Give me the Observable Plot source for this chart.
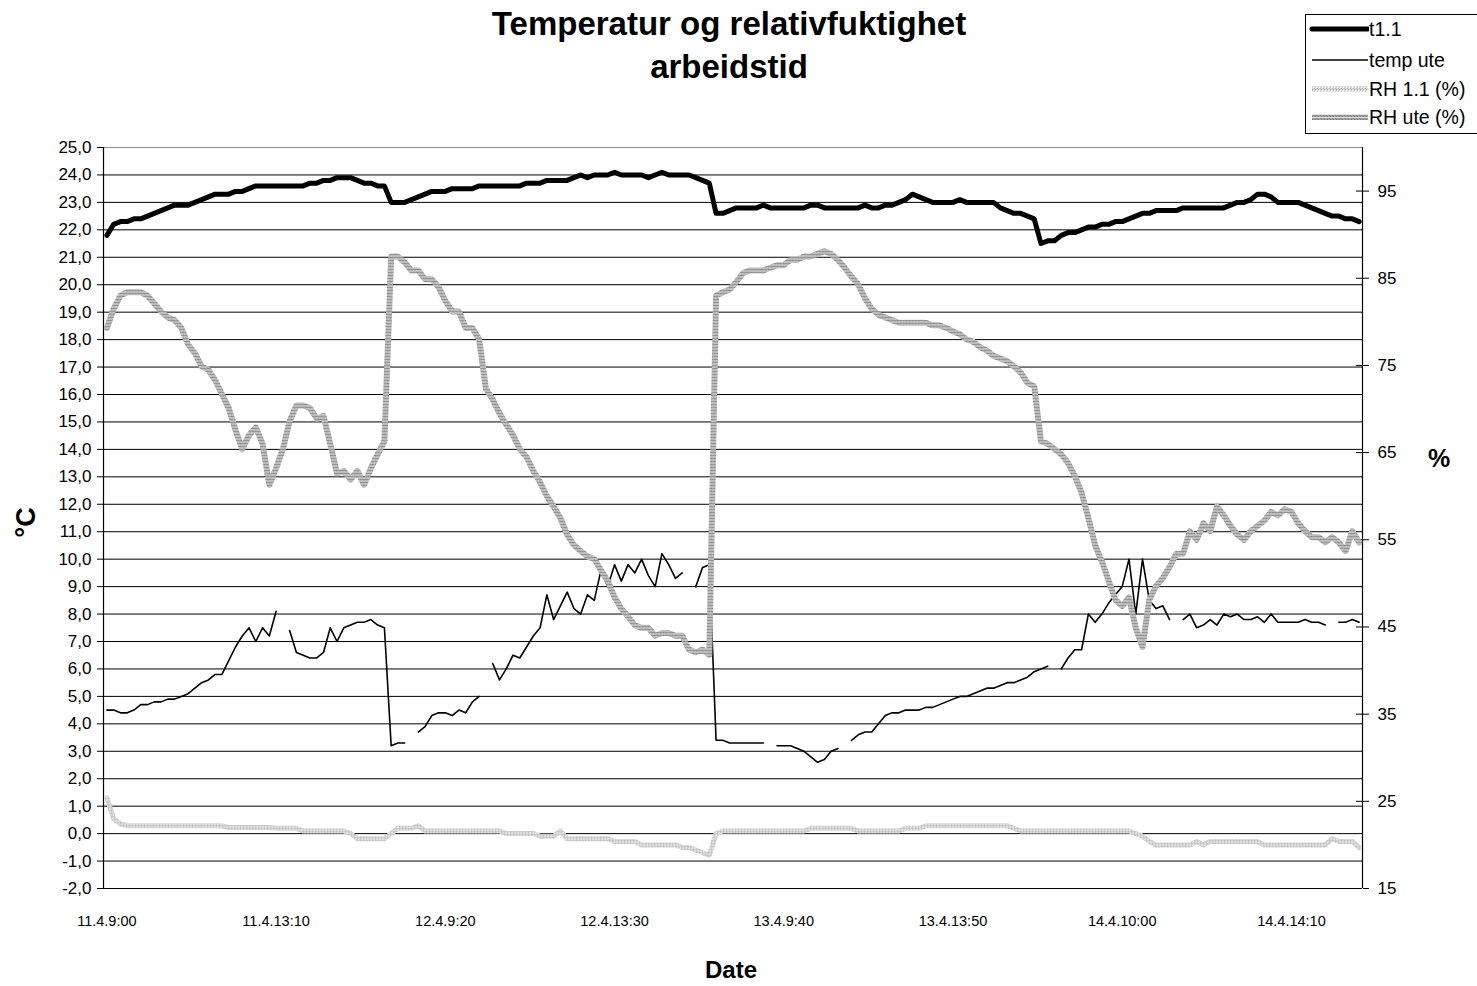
<!DOCTYPE html>
<html><head><meta charset="utf-8">
<script src="https://cdn.jsdelivr.net/npm/d3@7"></script>
<script src="https://cdn.jsdelivr.net/npm/@observablehq/plot@0.6"></script>
<style>
body{margin:0;background:#fff;font-family:"Liberation Sans",Arial,sans-serif;color:#000;}
#wrap{position:relative;width:1477px;height:986px;overflow:hidden;}
.abs{position:absolute;white-space:nowrap;}
.b{font-weight:bold;}
</style></head><body><div id="wrap"></div>
<script>
// ---- data ----
const tickIndex = [0, 25, 50, 75, 100, 125, 150, 175];
const tickLabels = ["11.4.9:00", "11.4.13:10", "12.4.9:20", "12.4.13:30", "13.4.9:40", "13.4.13:50", "14.4.10:00", "14.4.14:10"];
const seriesNames = ["t1.1", "temp ute", "RH 1.1 (%)", "RH ute (%)"];
const leftTicks = d3.range(-2, 26);
const rightTicks = [15, 25, 35, 45, 55, 65, 75, 85, 95];

const t11 = [
 21.8,22.2,22.3,22.3,22.4,22.4,22.5,22.6,22.7,22.8,
 22.9,22.9,22.9,23.0,23.1,23.2,23.3,23.3,23.3,23.4,
 23.4,23.5,23.6,23.6,23.6,23.6,23.6,23.6,23.6,23.6,
 23.7,23.7,23.8,23.8,23.9,23.9,23.9,23.8,23.7,23.7,
 23.6,23.6,23.0,23.0,23.0,23.1,23.2,23.3,23.4,23.4,
 23.4,23.5,23.5,23.5,23.5,23.6,23.6,23.6,23.6,23.6,
 23.6,23.6,23.7,23.7,23.7,23.8,23.8,23.8,23.8,23.9,
 24.0,23.9,24.0,24.0,24.0,24.1,24.0,24.0,24.0,24.0,
 23.9,24.0,24.1,24.0,24.0,24.0,24.0,23.9,23.8,23.7,
 22.6,22.6,22.7,22.8,22.8,22.8,22.8,22.9,22.8,22.8,
 22.8,22.8,22.8,22.8,22.9,22.9,22.8,22.8,22.8,22.8,
 22.8,22.8,22.9,22.8,22.8,22.9,22.9,23.0,23.1,23.3,
 23.2,23.1,23.0,23.0,23.0,23.0,23.1,23.0,23.0,23.0,
 23.0,23.0,22.8,22.7,22.6,22.6,22.5,22.4,21.5,21.6,
 21.6,21.8,21.9,21.9,22.0,22.1,22.1,22.2,22.2,22.3,
 22.3,22.4,22.5,22.6,22.6,22.7,22.7,22.7,22.7,22.8,
 22.8,22.8,22.8,22.8,22.8,22.8,22.9,23.0,23.0,23.1,
 23.3,23.3,23.2,23.0,23.0,23.0,23.0,22.9,22.8,22.7,
 22.6,22.5,22.5,22.4,22.4,22.3];

const tempUte = [
 4.5,4.5,4.4,4.4,4.5,4.7,4.7,4.8,4.8,4.9,
 4.9,5.0,5.1,5.3,5.5,5.6,5.8,5.8,6.3,6.8,
 7.2,7.5,7.0,7.5,7.2,8.1,null,7.4,6.6,6.5,
 6.4,6.4,6.6,7.5,7.0,7.5,7.6,7.7,7.7,7.8,
 7.6,7.5,3.2,3.3,3.3,null,3.7,3.9,4.3,4.4,
 4.4,4.3,4.5,4.4,4.8,5.0,null,6.2,5.6,6.0,
 6.5,6.4,6.8,7.2,7.5,8.7,7.8,8.3,8.8,8.2,
 8.0,8.7,8.5,9.6,9.0,9.8,9.2,9.8,9.5,10.0,
 9.4,9.0,10.2,9.8,9.3,9.5,null,9.0,9.7,9.8,
 3.4,3.4,3.3,3.3,3.3,3.3,3.3,3.3,null,3.2,
 3.2,3.2,3.1,3.0,2.8,2.6,2.7,3.0,3.1,null,
 3.4,3.6,3.7,3.7,4.0,4.3,4.4,4.4,4.5,4.5,
 4.5,4.6,4.6,4.7,4.8,4.9,5.0,5.0,5.1,5.2,
 5.3,5.3,5.4,5.5,5.5,5.6,5.7,5.9,6.0,6.1,
 null,6.0,6.4,6.7,6.7,8.0,7.7,8.0,8.4,8.7,
 9.0,10.0,8.0,10.0,8.5,8.2,8.3,7.8,null,7.8,
 8.0,7.5,7.6,7.8,7.6,8.0,7.9,8.0,7.8,7.8,
 7.9,7.7,8.0,7.7,7.7,7.7,7.7,7.8,7.7,7.7,
 7.6,null,7.7,7.7,7.8,7.7];

const rh11 = [
 25.4,23.0,22.4,22.2,22.2,22.2,22.2,22.2,22.2,22.2,
 22.2,22.2,22.2,22.2,22.2,22.2,22.2,22.2,22.0,22.0,
 22.0,22.0,22.0,22.0,22.0,21.9,21.9,21.9,21.9,21.6,
 21.6,21.6,21.6,21.6,21.6,21.6,21.3,20.7,20.7,20.7,
 20.7,20.7,21.3,21.9,21.9,21.9,22.2,21.6,21.6,21.6,
 21.6,21.6,21.6,21.6,21.6,21.6,21.6,21.6,21.6,21.3,
 21.3,21.3,21.3,21.3,21.0,21.0,21.0,21.6,20.7,20.7,
 20.7,20.7,20.7,20.7,20.7,20.4,20.4,20.4,20.4,20.0,
 20.0,20.0,20.0,20.0,20.0,19.7,19.7,19.4,19.1,18.8,
 21.3,21.6,21.6,21.6,21.6,21.6,21.6,21.6,21.6,21.6,
 21.6,21.6,21.6,21.6,21.9,21.9,21.9,21.9,21.9,21.9,
 21.9,21.6,21.6,21.6,21.6,21.6,21.6,21.6,21.9,21.9,
 21.9,22.2,22.2,22.2,22.2,22.2,22.2,22.2,22.2,22.2,
 22.2,22.2,22.2,22.2,21.9,21.6,21.6,21.6,21.6,21.6,
 21.6,21.6,21.6,21.6,21.6,21.6,21.6,21.6,21.6,21.6,
 21.6,21.6,21.3,21.0,20.4,20.0,20.0,20.0,20.0,20.0,
 20.0,20.4,20.0,20.4,20.4,20.4,20.4,20.4,20.4,20.4,
 20.4,20.0,20.0,20.0,20.0,20.0,20.0,20.0,20.0,20.0,
 20.0,20.7,20.4,20.4,20.4,19.7];

const rhUte = [
 79.3,81.5,83.0,83.4,83.4,83.4,83.0,82.1,81.2,80.5,
 80.2,79.3,77.4,76.4,74.9,74.5,73.3,71.7,70.1,67.6,
 65.4,67.0,67.9,66.0,61.3,63.2,65.4,68.6,70.4,70.4,
 70.1,68.9,69.2,66.0,62.6,62.9,61.9,62.9,61.3,63.2,
 64.8,66.3,87.5,87.5,86.8,85.9,85.9,84.9,84.9,84.0,
 82.4,81.2,81.2,79.3,79.3,78.0,72.3,71.1,69.5,68.2,
 67.0,65.4,64.5,62.9,61.6,60.0,58.8,57.5,55.6,54.4,
 53.7,53.1,52.8,51.5,50.3,48.4,47.1,46.2,45.2,44.9,
 44.9,44.0,44.3,44.3,44.0,44.0,42.4,42.1,42.4,41.8,
 83.0,83.4,83.7,84.6,85.6,85.9,85.9,85.9,86.2,86.5,
 86.5,87.1,87.1,87.5,87.5,87.8,88.1,87.8,87.1,86.2,
 85.2,84.3,82.7,81.5,80.8,80.5,80.2,79.9,79.9,79.9,
 79.9,79.9,79.6,79.6,79.3,78.9,78.6,78.0,77.7,77.1,
 76.7,76.1,75.8,75.5,74.9,74.2,73.0,72.6,66.3,66.0,
 65.4,64.8,63.8,62.3,60.4,57.5,54.4,52.5,50.3,48.1,
 47.4,48.4,44.9,42.7,48.1,49.7,50.6,51.9,53.4,53.4,
 56.0,55.0,56.9,56.0,58.8,57.8,56.6,55.6,55.0,56.0,
 56.6,57.2,58.2,57.8,58.5,58.2,56.9,56.0,55.3,55.3,
 54.7,55.3,54.7,53.7,56.0,54.7];

// ---- scales helpers (secondary % axis mapped onto the °C axis) ----
const C_MIN = -2, C_MAX = 25, P_MIN = 15, P_MAX = 100;
const pctToC = p => C_MIN + (p - P_MIN) * (C_MAX - C_MIN) / (P_MAX - P_MIN);
const cToPct = c => P_MIN + (c - C_MIN) * (P_MAX - P_MIN) / (C_MAX - C_MIN);
const N = t11.length;
const rows = (arr, conv) => arr.map((v, i) => ({i, v: v == null ? null : (conv ? conv(v) : v)}));

const plot = Plot.plot({
  width: 1477, height: 986,
  marginLeft: 103, marginRight: 115, marginTop: 147, marginBottom: 98,
  x: {type: "linear", domain: [-0.5, N - 0.5]},
  y: {domain: [C_MIN, C_MAX]},
  style: {fontFamily: "'Liberation Sans', Arial, sans-serif", background: "white", color: "black"},
  marks: [
    Plot.ruleY(leftTicks.filter(d => d > C_MIN && d < C_MAX), {stroke: "#000", strokeWidth: 1}),
    Plot.ruleY([C_MAX], {stroke: "#8c8c8c", strokeWidth: 1.2}),
    Plot.ruleY([C_MIN], {stroke: "#000", strokeWidth: 1.2}),
    Plot.ruleX([-0.5], {stroke: "#000", strokeWidth: 1.2}),
    Plot.ruleX([N - 0.5], {stroke: "#000", strokeWidth: 1.2}),
    Plot.axisX(tickIndex, {tickSize: 0, tickPadding: 27, fontSize: 14.5, label: null,
      tickFormat: d => tickLabels[tickIndex.indexOf(d)]}),
    Plot.axisY(leftTicks, {anchor: "left", tickSize: 6, tickPadding: 6, fontSize: 17, label: null,
      tickFormat: d => d.toFixed(1).replace(".", ",")}),
    Plot.axisY(rightTicks.map(pctToC), {anchor: "right", tickSize: 6, tickPadding: 9, fontSize: 17, label: null,
      tickFormat: d => String(Math.round(cToPct(d)))}),
    Plot.ruleY(rightTicks.map(pctToC), {x1: N - 1.4, x2: N - 0.5, stroke: "#000"}),
    Plot.line(rows(t11), {x: "i", y: "v", stroke: "#000", strokeWidth: 5, strokeLinejoin: "round", strokeLinecap: "round"}),
    Plot.line(rows(tempUte), {x: "i", y: "v", stroke: "#000", strokeWidth: 1.6, strokeLinejoin: "round"}),
    Plot.line(rows(rh11, pctToC), {x: "i", y: "v", stroke: "url(#patRH11)", strokeWidth: 5, strokeLinejoin: "round"}),
    Plot.line(rows(rhUte, pctToC), {x: "i", y: "v", stroke: "url(#patRHute)", strokeWidth: 6, strokeLinejoin: "round"})
  ]
});

// patterns that imitate the textured grey series
const defs = d3.select(plot).insert("defs", ":first-child");
function pattern(id, base, cells) {
  const p = defs.append("pattern").attr("id", id).attr("patternUnits", "userSpaceOnUse").attr("width", 3).attr("height", 3);
  p.append("rect").attr("width", 3).attr("height", 3).attr("fill", base);
  cells.forEach(([x, y, w, h, c]) => p.append("rect").attr("x", x).attr("y", y).attr("width", w).attr("height", h).attr("fill", c));
}
pattern("patRH11", "#d8d8d8", [[0, 0, 1, 1, "#a4a4a4"], [1, 1, 1, 1, "#ffffff"], [2, 2, 1, 1, "#b8b8b8"]]);
pattern("patRHute", "#a0a0a0", [[0, 0, 3, 1, "#e2e2e2"], [0, 2, 1, 1, "#7a7a7a"], [2, 1, 1, 1, "#858585"]]);

const wrap = document.getElementById("wrap");
plot.style.position = "absolute"; plot.style.left = "0"; plot.style.top = "0";
wrap.appendChild(plot);

function addText(txt, opts) {
  const d = document.createElement("div");
  d.className = "abs" + (opts.bold ? " b" : "");
  d.textContent = txt;
  d.style.fontSize = opts.fs + "px";
  d.style.lineHeight = opts.fs + "px";
  d.style.top = (opts.cy - 0.4885 * opts.fs) + "px";
  if (opts.center) { d.style.left = (opts.x - 300) + "px"; d.style.width = "600px"; d.style.textAlign = "center"; }
  else d.style.left = opts.x + "px";
  wrap.appendChild(d);
  return d;
}
addText("Temperatur og relativfuktighet", {fs: 33, cy: 23, x: 729, center: true, bold: true});
addText("arbeidstid", {fs: 33, cy: 66, x: 729, center: true, bold: true});
addText("Date", {fs: 24, cy: 969.5, x: 731, center: true, bold: true});
addText("%", {fs: 25, cy: 458, x: 1428, bold: true});
// rotated °C
const yl = document.createElement("div");
yl.className = "abs b"; yl.textContent = "°C";
Object.assign(yl.style, {fontSize: "27px", lineHeight: "27px", width: "100px", textAlign: "center",
  left: (26 - 50) + "px", top: (522 - 13.5) + "px", transform: "rotate(-90deg)"});
wrap.appendChild(yl);

// legend
const leg = document.createElement("div");
leg.className = "abs";
Object.assign(leg.style, {left: "1305px", top: "14px", width: "172px", height: "118px", border: "1px solid #000", borderRight: "none", background: "#fff"});
wrap.appendChild(leg);
const legStyles = [
  {stroke: "#000", w: 5}, {stroke: "#000", w: 1.6}, {stroke: "url(#patRH11)", w: 5}, {stroke: "url(#patRHute)", w: 6}
];
const legY = [29, 60, 89, 117];
seriesNames.forEach((name, k) => {
  const svg = d3.create("svg").attr("width", 60).attr("height", 12)
    .style("position", "absolute").style("left", "1309px").style("top", (legY[k] - 6) + "px");
  svg.append("line").attr("x1", 3).attr("x2", 59).attr("y1", 6).attr("y2", 6)
    .attr("stroke", legStyles[k].stroke).attr("stroke-width", legStyles[k].w).attr("stroke-linecap", k === 0 ? "round" : "butt");
  wrap.appendChild(svg.node());
  addText(name, {fs: 19.5, cy: legY[k] + 1, x: 1369});
});
</script></body></html>
